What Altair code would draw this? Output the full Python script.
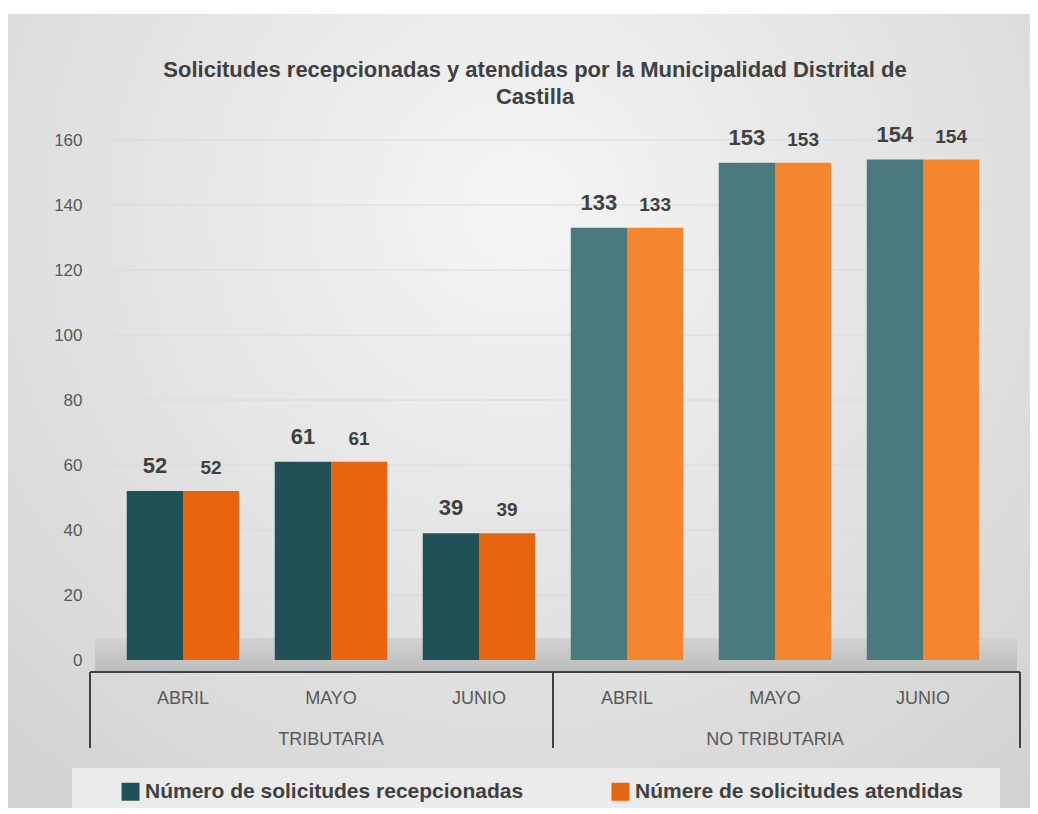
import altair as alt
import pandas as pd

# ---- data ----
groups = ["TRIBUTARIA", "TRIBUTARIA", "TRIBUTARIA", "NO TRIBUTARIA", "NO TRIBUTARIA", "NO TRIBUTARIA"]
months = ["ABRIL", "MAYO", "JUNIO", "ABRIL", "MAYO", "JUNIO"]
recepcionadas = [52, 61, 39, 133, 153, 154]
atendidas = [52, 61, 39, 133, 153, 154]
series_names = ["Número de solicitudes recepcionadas", "Númere de solicitudes atendidas"]
title_line1 = "Solicitudes recepcionadas y atendidas por la Municipalidad Distrital de"
title_line2 = "Castilla"
y_ticks = [0, 20, 40, 60, 80, 100, 120, 140, 160]

keys = [g + "|" + m for g, m in zip(groups, months)]
rows = []
for g, m, k, r, a in zip(groups, months, keys, recepcionadas, atendidas):
    for s, v in zip(series_names, [r, a]):
        ck = s if g == "TRIBUTARIA" else s + " NT"
        rows.append({"key": k, "group": g, "month": m, "series": s, "ckey": ck, "value": v})
df = pd.DataFrame(rows)

grp_df = pd.DataFrame({"group": ["TRIBUTARIA", "NO TRIBUTARIA"],
                       "key": ["TRIBUTARIA|MAYO", "NO TRIBUTARIA|MAYO"]})
grid_df = pd.DataFrame({"tick": y_ticks})
one = pd.DataFrame({"d": [0]})

W, H = 888, 520
PL, PT, PR, PB = 101, 132, 33, 148
FONT = "Liberation Sans Narrow, Arial Narrow, Liberation Sans, Arial, sans-serif"

TEAL, ORANGE = "#1f5156", "#e8650f"
TEAL_L, ORANGE_L = "#4a7a7e", "#f4862f"

xscale = alt.Scale(domain=keys, paddingInner=0.24, paddingOuter=0.12)
yscale = alt.Scale(domain=[0, 160], nice=False)

# background with soft radial gradient
bg = alt.Chart(one).mark_rect(
    fill={"gradient": "radial",
          "stops": [{"offset": 0, "color": "#f5f5f5"}, {"offset": 1, "color": "#d0d0d0"}],
          "x1": 0.5, "y1": 0.3, "r1": 0, "x2": 0.5, "y2": 0.3, "r2": 0.8}
).encode(x=alt.value(-PL), x2=alt.value(W + PR), y=alt.value(-PT + 6), y2=alt.value(H + PB))

# title as text marks
t1 = alt.Chart(one).mark_text(text=title_line1, fontSize=22, font=FONT, fontWeight="bold",
                              color="#404040", baseline="middle", align="center").encode(
    x=alt.value(426), y=alt.value(-70))
t2 = alt.Chart(one).mark_text(text=title_line2, fontSize=22, font=FONT, fontWeight="bold",
                              color="#404040", baseline="middle", align="center").encode(
    x=alt.value(426), y=alt.value(-43))

# grid lines
grid = alt.Chart(grid_df).mark_rule(color="#dadada", strokeWidth=1).encode(
    y=alt.Y("tick:Q", scale=yscale), x=alt.value(0), x2=alt.value(W))

# legend box
legbox = alt.Chart(one).mark_rect(fill="#ebebeb").encode(
    x=alt.value(-37), x2=alt.value(891), y=alt.value(H + 108), y2=alt.value(H + 148))

# floor
floor = alt.Chart(one).mark_rect(
    fill={"gradient": "linear",
          "stops": [{"offset": 0, "color": "#d2d2d2"}, {"offset": 1, "color": "#bcbcbc"}],
          "x1": 0, "y1": 0, "x2": 0, "y2": 1}
).encode(x=alt.value(-14), x2=alt.value(W + 20), y=alt.value(H - 22), y2=alt.value(H + 12))

bars = alt.Chart(df).mark_bar().encode(
    x=alt.X("key:N", scale=xscale, title=None,
            axis=alt.Axis(labelExpr="split(datum.value, '|')[1]", domain=False, ticks=False,
                          grid=False, zindex=1, labelAngle=0, labelPadding=29, labelFontSize=18,
                          labelFont=FONT, labelColor="#595959", labelBaseline="top")),
    xOffset=alt.XOffset("series:N", sort=series_names, scale=alt.Scale(paddingInner=0, paddingOuter=0)),
    y=alt.Y("value:Q", title=None, scale=yscale,
            axis=alt.Axis(values=y_ticks, domain=False, ticks=False, grid=False, zindex=1,
                          labelPadding=27, labelFontSize=17, labelFont=FONT, labelColor="#595959")),
    color=alt.Color("ckey:N",
                    scale=alt.Scale(domain=series_names + [s + " NT" for s in series_names],
                                    range=[TEAL, ORANGE, TEAL_L, ORANGE_L]),
                    legend=alt.Legend(values=series_names, title=None, orient="none",
                                      legendX=11, legendY=H + 121, direction="horizontal",
                                      symbolType="square", symbolSize=324, symbolStrokeWidth=0,
                                      labelFontSize=21, labelFont=FONT, labelFontWeight="bold",
                                      labelColor="#404040", labelOffset=4, columnPadding=86,
                                      padding=0, labelLimit=600)),
)

labels = alt.Chart(df).mark_text(baseline="bottom", dy=-13, fontWeight="bold", font=FONT,
                                 color="#404040").encode(
    x=alt.X("key:N", scale=xscale),
    xOffset=alt.XOffset("series:N", sort=series_names),
    y=alt.Y("value:Q"),
    text=alt.Text("value:Q"),
    size=alt.Size("series:N", scale=alt.Scale(domain=series_names, range=[22, 19]), legend=None),
)

grp_labels = alt.Chart(grp_df).mark_text(baseline="middle", fontSize=18, font=FONT,
                                         color="#595959").encode(
    x=alt.X("key:N", scale=xscale),
    y=alt.value(H + 80),
    text="group:N",
)

line_style = dict(color="#404040", strokeWidth=2)
hline = alt.Chart(one).mark_rule(**line_style).encode(
    x=alt.value(-19), x2=alt.value(911), y=alt.value(H + 12))
v1 = alt.Chart(one).mark_rule(**line_style).encode(
    x=alt.value(-19), y=alt.value(H + 12), y2=alt.value(H + 88))
v2 = alt.Chart(one).mark_rule(**line_style).encode(
    x=alt.value(W / 2), y=alt.value(H + 12), y2=alt.value(H + 88))
v3 = alt.Chart(one).mark_rule(**line_style).encode(
    x=alt.value(911), y=alt.value(H + 12), y2=alt.value(H + 88))

chart = alt.layer(bg, t1, t2, grid, legbox, floor, bars, labels, grp_labels,
                  hline, v1, v2, v3).properties(
    width=W, height=H,
    autosize=alt.AutoSizeParams(type="none"),
    padding={"left": PL, "top": PT, "right": PR, "bottom": PB},
).configure_view(stroke=None).configure(background="#ffffff")

chart.save("out.html", embed_options={"renderer": "svg", "actions": False})
